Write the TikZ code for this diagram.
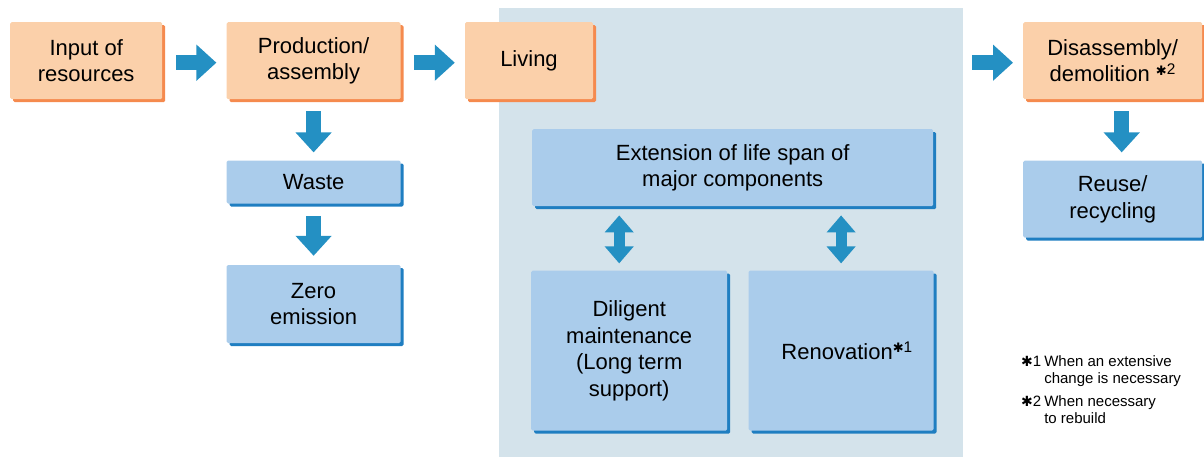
\documentclass[tikz,border=0pt]{standalone}
\usepackage{fontspec}
\setmainfont{Liberation Sans}
\newfontfamily\symfont{DejaVu Sans}
\usepackage{tikz}
\usetikzlibrary{arrows.meta, positioning, shadows}
\definecolor{boxorange}{HTML}{FBD0AA}
\definecolor{edgeorange}{HTML}{F58A4E}
\definecolor{boxblue}{HTML}{AACCEB}
\definecolor{edgeblue}{HTML}{1F7EC1}
\definecolor{panelgrey}{HTML}{D4E3EB}
\definecolor{arrowblue}{HTML}{2490C3}
\newcommand{\starnote}[1]{\raisebox{0.3em}{\symfont\fontsize{13}{13}\selectfont ✱}\textsuperscript{#1}}
\newcommand{\notestar}{{\symfont\fontsize{14}{14}\selectfont ✱}}

\begin{document}
\begin{tikzpicture}[
    x=1pt, y=1pt,
    node distance=61pt and 64pt,
    basebox/.style={rectangle, rounded corners=1.5pt, align=center, inner sep=0pt, minimum height=77pt, font=\fontsize{22}{26.5}\selectfont},
    stage/.style={basebox, fill=boxorange, drop shadow={fill=edgeorange, opacity=1, shadow xshift=3pt, shadow yshift=-3pt}},
    effect/.style={basebox, fill=boxblue, drop shadow={fill=edgeblue, opacity=1, shadow xshift=3pt, shadow yshift=-3pt}},
    panel/.style={rectangle, fill=panelgrey, inner sep=0pt},
    flow/.style={line width=15pt, draw=arrowblue, -{Triangle[length=20pt, width=35pt]}},
    twoway/.style={line width=11pt, draw=arrowblue, {Triangle[length=17pt, width=28pt]}-{Triangle[length=17pt, width=28pt]}},
    note/.style={anchor=north west, inner sep=0pt, font=\fontsize{15}{16.5}\selectfont}
]
\useasboundingbox (0,0) rectangle (1204,-457);
% living phase panel
\node[panel, anchor=north west, minimum width=464pt, minimum height=449pt] (life) at (499,-8) {};

\node[stage, minimum width=152pt, anchor=north west] (input) at (10,-22) {Input of\\resources};
\node[stage, minimum width=174pt, right=of input] (prod) {Production/\\assembly};
\node[stage, minimum width=128pt, right=of prod] (living) {Living};
\node[stage, minimum width=179pt, anchor=north west] (dis) at (1023,-22) {Disassembly/\\demolition \starnote{2}};

\node[effect, minimum width=174pt, minimum height=43pt, below=of prod] (waste) {Waste};
\node[effect, minimum width=174pt, minimum height=78pt, below=of waste] (zero) {Zero\\emission};
\node[effect, minimum width=179pt, below=of dis] (reuse) {Reuse/\\recycling};

\node[effect, minimum width=401pt, anchor=north west] (ext) at (532,-129) {Extension of life span of\\major components};
\node[effect, minimum width=196pt, minimum height=160pt, below right=64pt and -1pt of ext.south west] (dil) {Diligent\\maintenance\\(Long term\\support)};
\node[effect, minimum width=185pt, minimum height=160pt, right=21pt of dil] (ren) {\hspace{12pt}Renovation\starnote{1}};

\node[note] (note1) at (1021,-355) {\begin{tabular}{@{}l@{\hspace{3pt}}l@{}}\notestar1 & When an extensive\\ & change is necessary\end{tabular}};
\node[note] (note2) at (1021,-395) {\begin{tabular}{@{}l@{\hspace{3pt}}l@{}}\notestar2 & When necessary\\ & to rebuild\end{tabular}};

\coordinate (dil top) at ([xshift=-10pt]dil.north);

\draw[flow, shorten <=14pt, shorten >=10pt] ([yshift=-2pt]input.east) -- ([yshift=-2pt]prod.west);
\draw[flow, shorten <=13pt, shorten >=10pt] ([yshift=-2pt]prod.east) -- ([yshift=-2pt]living.west);
\draw[flow, shorten <=9pt, shorten >=10pt] ([yshift=-2pt]life.east |- dis.west) -- ([yshift=-2pt]dis.west);
\draw[flow, shorten <=12pt, shorten >=8pt] (prod) -- (waste);
\draw[flow, shorten <=12pt, shorten >=9pt] (waste) -- (zero);
\draw[flow, shorten <=12pt, shorten >=8pt] ([xshift=9pt]dis.south) -- ([xshift=9pt]reuse.north);
\draw[twoway, shorten <=9pt, shorten >=7pt] (ext.south -| dil top) -- (dil top);
\draw[twoway, shorten <=9pt, shorten >=7pt] (ext.south -| ren.north) -- (ren.north);
\end{tikzpicture}
\end{document}
